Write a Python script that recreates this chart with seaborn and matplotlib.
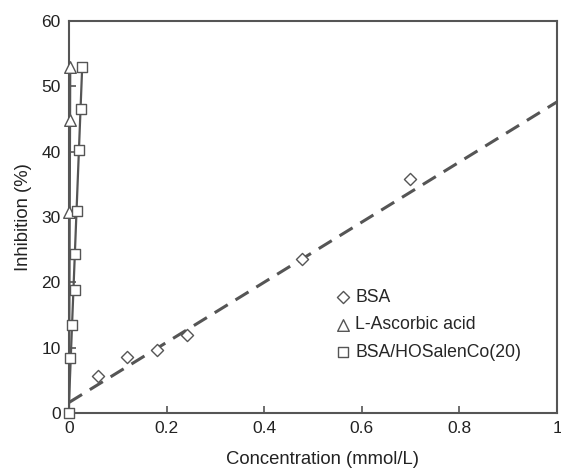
import numpy as np
import pandas as pd
import matplotlib
matplotlib.use("Agg")
import matplotlib.pyplot as plt
import seaborn as sns

# Inhibition (%) versus concentration (mmol/L)
bsa_conc = [0.059, 0.119, 0.180, 0.242, 0.477, 0.699]
bsa_inhib = [5.6, 8.6, 9.6, 11.9, 23.6, 35.8]

asc_conc = [0.0010, 0.0020, 0.0025]
asc_inhib = [30.8, 44.8, 52.9]

cobalt_conc = [0.0, 0.002, 0.0068, 0.0123, 0.013, 0.0164, 0.0205, 0.0246, 0.027]
cobalt_inhib = [0.0, 8.4, 13.5, 18.8, 24.3, 30.9, 40.3, 46.5, 52.9]

# Linear trend lines: (x start, x end, slope, intercept)
bsa_trend = (0.0, 1.0, 46.0, 1.6)
asc_trend = (0.0, 0.0025, 21000.0, 0.0)
cobalt_trend = (0.0, 0.027, 1900.0, 1.6)

x_ticks = [0, 0.2, 0.4, 0.6, 0.8, 1]
x_tick_labels = ["0", "0.2", "0.4", "0.6", "0.8", "1"]
y_ticks = [0, 10, 20, 30, 40, 50, 60]

sns.set_style("white")
plt.rcParams["font.family"] = ["Liberation Sans", "DejaVu Sans"]

grey = "#555555"
fig = plt.figure(figsize=(5.61, 4.73), dpi=100)
ax = fig.add_axes([0.123, 0.127, 0.870, 0.829])


def trend_frame(tr):
    x0, x1, k, b = tr
    xs = np.array([x0, x1])
    return pd.DataFrame({"x": xs, "y": k * xs + b})


sns.lineplot(data=trend_frame(bsa_trend), x="x", y="y", ax=ax, color=grey,
             lw=2.2, dashes=False, linestyle=(0, (5, 3)), zorder=2)
sns.lineplot(data=trend_frame(asc_trend), x="x", y="y", ax=ax, color=grey,
             lw=1.6, zorder=2)
sns.lineplot(data=trend_frame(cobalt_trend), x="x", y="y", ax=ax, color=grey,
             lw=1.6, zorder=2)

sns.scatterplot(x=bsa_conc, y=bsa_inhib, ax=ax, marker="D", s=38,
                facecolor="white", edgecolor=grey, linewidth=1.0,
                label="BSA", zorder=3, clip_on=False)
sns.scatterplot(x=asc_conc, y=asc_inhib, ax=ax, marker="^", s=70,
                facecolor="white", edgecolor=grey, linewidth=1.0,
                label="L-Ascorbic acid", zorder=3, clip_on=False)
sns.scatterplot(x=cobalt_conc, y=cobalt_inhib, ax=ax, marker="s", s=60,
                facecolor="white", edgecolor=grey, linewidth=1.0,
                label="BSA/HOSalenCo(20)", zorder=3, clip_on=False)

ax.set_xlim(0, 1)
ax.set_ylim(0, 60)
ax.set_xticks(x_ticks)
ax.set_xticklabels(x_tick_labels)
ax.set_yticks(y_ticks)
ax.tick_params(axis="both", direction="in", length=5, width=1.2, color=grey,
               labelsize=12.5, labelcolor="#222222", pad=6,
               bottom=True, left=True)
for side in ax.spines.values():
    side.set_visible(True)
    side.set_color(grey)
    side.set_linewidth(1.5)

ax.set_xlabel("Concentration (mmol/L)", fontsize=13.3, color="#222222")
ax.xaxis.set_label_coords(0.52, -0.12)
ax.xaxis.label.set_verticalalignment("center")
ax.set_ylabel("Inhibition (%)", fontsize=13.3, color="#222222", labelpad=7)

ax.legend(loc="upper left", bbox_to_anchor=(0.529, 0.335), frameon=False,
          fontsize=12.7, handletextpad=0.2, labelspacing=0.6,
          handlelength=1.0, borderaxespad=0)

fig.savefig("out.png", dpi=100)
